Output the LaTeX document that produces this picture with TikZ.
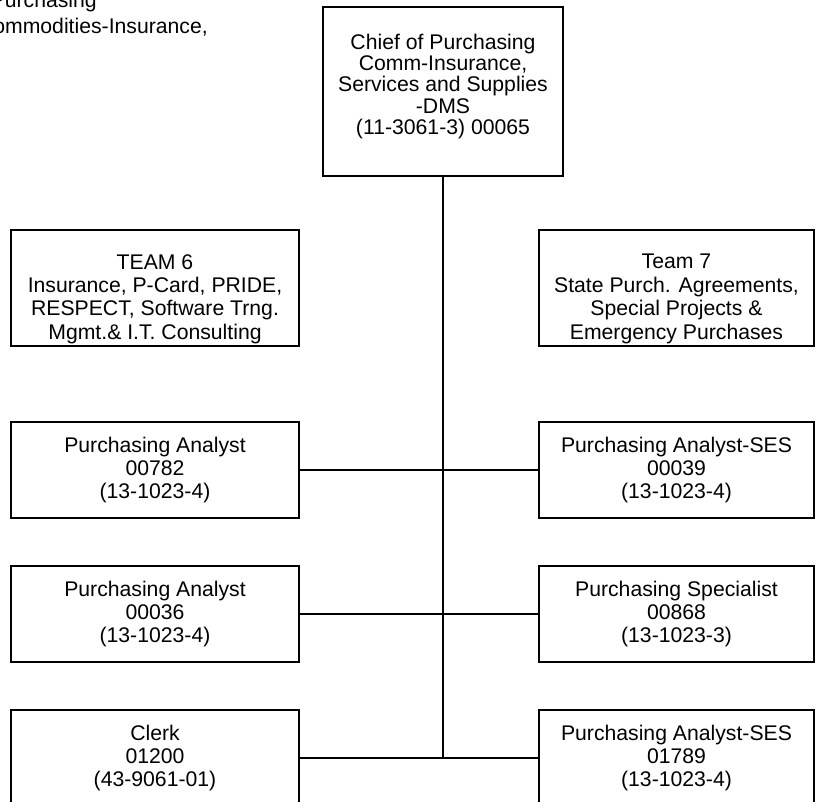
\documentclass[tikz,border=0pt]{standalone}
\usepackage{fontspec}
\setmainfont{Liberation Sans}
\begin{document}
\begin{tikzpicture}[x=1pt,y=-1pt,
  box/.style={draw=black, line width=2pt, fill=white, inner sep=0pt},
  sidebox/.style={box, minimum width=288pt, minimum height=96pt},
  rightbox/.style={box, minimum width=275pt, minimum height=96pt},
  teambox/.style={box, minimum height=116pt},
  txt/.style={align=center, inner sep=0pt, font=\fontsize{21.2}{23}\selectfont},
  chieftxt/.style={txt, font=\fontsize{21.2}{21.3}\selectfont},
  teamtxt/.style={txt, font=\fontsize{21.2}{23.4}\selectfont},
  link/.style={line width=2pt}]
\useasboundingbox (0,0) rectangle (815,802);
\clip (0,0) rectangle (815,802);

% heading in the upper left corner
\node[txt, anchor=base east] (headA) at (97,8) {Purchasing};
\node[txt, anchor=base east] (headB) at (208,34) {Commodities-Insurance,};

% chief
\node[box, minimum width=240pt, minimum height=169pt] (chief) at (443,91.5) {};
\node[chieftxt] (chiefT) at ([yshift=5pt]chief.center)
  {Chief of Purchasing\\Comm-Insurance,\\Services and Supplies\\-DMS\\(11-3061-3) 00065};

% teams
\node[teambox, minimum width=288pt] (team6) at (155,288) {};
\node[teamtxt] (team6T) at ([yshift=-11pt]team6.center)
  {TEAM 6\\Insurance, P-Card, PRIDE,\\RESPECT, Software Trng.\\Mgmt.\& I.T. Consulting};
\node[teambox, minimum width=275pt] (team7) at (676.5,288) {};
\node[teamtxt] (team7T) at ([yshift=-11pt]team7.center)
  {Team 7\\State Purch. Agreements,\\Special Projects \&\\Emergency Purchases};

% positions, left column
\node[sidebox, txt] (pa1) at (155,470) {Purchasing Analyst\\00782\\(13-1023-4)};
\node[sidebox, txt] (pa2) at (155,614) {Purchasing Analyst\\00036\\(13-1023-4)};
\node[sidebox, txt] (clerk) at (155,758) {Clerk\\01200\\(43-9061-01)};

% positions, right column
\node[rightbox, txt] (ses1) at (676.5,470) {Purchasing Analyst-SES\\00039\\(13-1023-4)};
\node[rightbox, txt] (spec) at (676.5,614) {Purchasing Specialist\\00868\\(13-1023-3)};
\node[rightbox, txt] (ses2) at (676.5,758) {Purchasing Analyst-SES\\01789\\(13-1023-4)};

% connectors
\coordinate (trunkEnd) at (chief.south |- clerk.east);
\draw[link] (chief.south) -- (trunkEnd);
\draw[link] (pa1.east) -- (ses1.west);
\draw[link] (pa2.east) -- (spec.west);
\draw[link] (clerk.east) -- (ses2.west);
\end{tikzpicture}
\end{document}
